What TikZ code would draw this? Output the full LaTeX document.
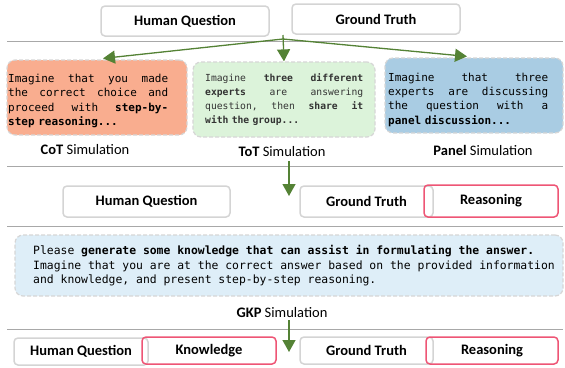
\documentclass[tikz,border=0pt]{standalone}
\usepackage{fontspec}
\setmainfont{Carlito}
\newfontfamily\monof{DejaVu Sans Mono}[BoldFont={DejaVu Sans Mono Bold}]
\usetikzlibrary{arrows.meta}
\definecolor{boxgray}{HTML}{D4D4D4}
\definecolor{redc}{HTML}{EE5575}
\definecolor{dashgray}{HTML}{D6D6D6}
\definecolor{sepgray}{HTML}{A8A8A8}
\definecolor{agreen}{HTML}{548235}
\definecolor{cotfill}{HTML}{F9AD8F}
\definecolor{totfill}{HTML}{DCF3DA}
\definecolor{panelfill}{HTML}{A9CCE3}
\definecolor{gkpfill}{HTML}{DEEEF8}
\definecolor{tottext}{HTML}{333333}
\setlength\parindent{0pt}
\newcommand\jline[1]{\makebox[\linewidth][s]{#1}}
\begin{document}
\begin{tikzpicture}[x=1pt,y=-1pt,
  gbox/.style={draw=boxgray, line width=1.5pt, rounded corners=4pt, inner sep=0pt,
    font=\fontsize{14.5}{16}\selectfont\bfseries},
  rbox/.style={draw=redc, line width=1.5pt, rounded corners=4pt, inner sep=0pt,
    font=\fontsize{14.5}{16}\selectfont\bfseries},
  simbox/.style={draw=dashgray, dash pattern=on 4pt off 2pt, line width=1.2pt,
    rounded corners=8pt, inner sep=0pt},
  monotext/.style={anchor=north west, inner sep=0pt},
  lab/.style={inner sep=0pt, font=\fontsize{14.5}{16}\selectfont},
  garrow/.style={draw=agreen, line width=1.3pt, -{Triangle[width=13pt,length=12pt]}, fill=agreen},
  sep/.style={draw=sepgray, line width=0.9pt}]
\useasboundingbox (0,0) rectangle (565,367);

% ---- top row
\node[gbox, minimum width=168pt, minimum height=30pt] (hq1) at (185,21) {Human Question};
\node[gbox, minimum width=168pt, minimum height=30pt] (gt1) at (376,19) {Ground Truth};
\draw[sep] (7,41.5) -- (563,41.5);

% ---- simulation boxes
\node[simbox, fill=cotfill, minimum width=180pt, minimum height=75pt] (cotbox) at (97,97.5) {};
\node[simbox, fill=totfill, minimum width=182pt, minimum height=75pt] (totbox) at (284,99.5) {};
\node[simbox, fill=panelfill, minimum width=178pt, minimum height=75pt] (panelbox) at (474,95.5) {};

\node[monotext, text width=160pt, font=\monof\fontsize{11}{14.6}\selectfont] (cottxt) at (8,73.5) {%
\jline{Imagine\hfill that\hfill you\hfill made}\\
\jline{the\hfill correct\hfill choice\hfill and}\\
\jline{proceed\hfill with\hfill \textbf{step-by-}}\\
\textbf{step reasoning...}};

\node[monotext, text width=158pt, text=tottext, font=\monof\fontsize{9.7}{14.2}\selectfont] (tottxt) at (205,73) {%
\jline{Imagine\hfill \textbf{three}\hfill \textbf{different}}\\
\jline{\textbf{experts}\hfill are\hfill answering}\\
\jline{question,\hfill then\hfill \textbf{share}\hfill \textbf{it}}\\
\textbf{with the group...}};

\node[monotext, text width=160pt, font=\monof\fontsize{11}{14.4}\selectfont] (paneltxt) at (388,72.5) {%
\jline{Imagine\hfill that\hfill three}\\
\jline{experts\hfill are\hfill discussing}\\
\jline{the\hfill question\hfill with\hfill a}\\
\textbf{panel discussion...}};

\node[lab] (cotlab) at (85,150) {\textbf{CoT} Simulation};
\node[lab] (totlab) at (282,152) {\textbf{ToT} Simulation};
\node[lab] (panellab) at (483,150) {\textbf{Panel} Simulation};

\coordinate (split) at (283,39);
\coordinate (mtop) at (283,35);
\draw[garrow] (split) -- ([xshift=6pt,yshift=1pt]cotbox.north);
\draw[garrow] (mtop) -- (totbox.north);
\draw[garrow] (split) -- ([xshift=-7pt,yshift=1pt]panelbox.north);

% ---- second row
\draw[sep] (7,166.5) -- (563,166.5);
\node[gbox, minimum width=167pt, minimum height=31pt] (hq2) at (146.5,201.5) {Human Question};
\node[gbox, minimum width=133pt, minimum height=31pt] (gt2) at (366.5,201.5) {Ground Truth};
\node[rbox, minimum width=134pt, minimum height=32pt] (re2) at (491,201) {Reasoning};
\coordinate (a2s) at (289,161);
\coordinate (a2e) at (289,196);
\draw[garrow] (a2s) -- (a2e);

% ---- GKP
\draw[sep] (7,226.5) -- (563,226.5);
\node[simbox, fill=gkpfill, minimum width=548pt, minimum height=61pt] (gkpbox) at (289,265.5) {};
\node[monotext, align=left, font=\monof\fontsize{11.4}{14.5}\selectfont] (gkptxt) at (33,245.5) {%
Please \textbf{generate some knowledge that can assist in formulating the answer.}\\
Imagine that you are at the correct answer based on the provided information\\
and knowledge, and present step-by-step reasoning.};
\node[lab] (gkplab) at (282,313) {\textbf{GKP} Simulation};

% ---- bottom row
\draw[sep] (7,329.5) -- (563,329.5);
\node[gbox, minimum width=134pt, minimum height=27pt] (hq3) at (81,351.5) {Human Question};
\node[rbox, minimum width=134pt, minimum height=27pt] (kn3) at (209,350.5) {Knowledge};
\node[gbox, minimum width=133pt, minimum height=27pt] (gt3) at (366.5,350.5) {Ground Truth};
\node[rbox, minimum width=132pt, minimum height=27pt] (re3) at (492,350.5) {Reasoning};
\coordinate (a3s) at (289,320);
\coordinate (a3e) at (289,352);
\draw[garrow] (a3s) -- (a3e);
\end{tikzpicture}
\end{document}
